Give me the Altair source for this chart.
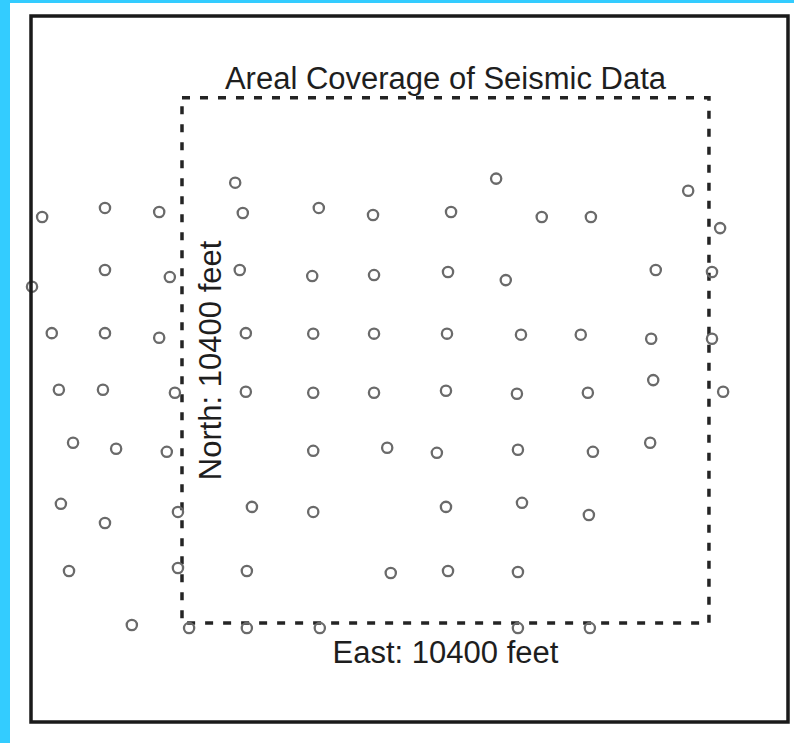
import altair as alt
import pandas as pd

# Receiver/shot locations (feet)
east = [
    1050, -2760, -1520, -450, 1200, 2700, 3770, 5310, 6200, 7100, 8070, 9990, 10620,
    -1520, -240, -2960, 1140, 2570, 3790, 5250, 6390, 9350, 10460,
    -2570, -1520, -450, 1260, 2590, 3790, 5230, 6690, 7870, 9260, 10460,
    -2430, -1560, -140, 1260, 2590, 3790, 5210, 6610, 8010, 9300, 10680,
    -2150, -1300, -300, 2590, 4050, 5030, 6630, 8110, 9240,
    -2390, -1520, -80, 1380, 2590, 5210, 6710, 8030,
    -2230, -80, 1280, 4120, 5250, 6630,
    -990, 140, 1280, 2720, 6630, 8050,
]
north = [
    8720, 8040, 8220, 8140, 8120, 8220, 8080, 8140, 8800, 8040, 8040, 8560, 7820,
    6990, 6850, 6660, 6990, 6870, 6890, 6950, 6790, 6990, 6950,
    5740, 5740, 5650, 5740, 5730, 5730, 5730, 5710, 5710, 5630, 5630,
    4620, 4620, 4560, 4580, 4560, 4560, 4600, 4540, 4560, 4810, 4580,
    3570, 3450, 3390, 3410, 3470, 3370, 3430, 3390, 3570,
    2360, 1980, 2200, 2300, 2200, 2300, 2380, 2140,
    1030, 1090, 1030, 990, 1030, 1010,
    -40, -100, -100, -100, -100, -100,
]

survey_side = [0, 10400]          # dashed square: 10400 x 10400 feet
x_domain = [-2980, 11960]
y_domain = [-1960, 12020]

labels_text = ["Areal Coverage of Seismic Data", "East: 10400 feet", "North: 10400 feet"]
labels_east = [5200, 5200, 770]
labels_north = [10580, -790, 5200]
labels_angle = [0, 0, 270]

W, H = 757, 706

pts = pd.DataFrame({"east": east, "north": north})
box = pd.DataFrame({"x0": [survey_side[0]], "x1": [survey_side[1]],
                    "y0": [survey_side[0]], "y1": [survey_side[1]]})
lab = pd.DataFrame({"text": labels_text, "east": labels_east,
                    "north": labels_north, "angle": labels_angle})

xs = alt.Scale(domain=x_domain, nice=False, zero=False)
ys = alt.Scale(domain=y_domain, nice=False, zero=False)

white = alt.Chart(pd.DataFrame({"a": [0]})).mark_rect(
    fill="white", clip=False
).encode(x=alt.value(-21), x2=alt.value(W + 6), y=alt.value(-13), y2=alt.value(H + 21))

square = alt.Chart(box).mark_rect(
    fill=None, fillOpacity=0, stroke="#242424", strokeWidth=3.5, strokeDash=[8, 10]
).encode(
    x=alt.X("x0:Q", scale=xs, axis=None),
    x2="x1:Q",
    y=alt.Y("y0:Q", scale=ys, axis=None),
    y2="y1:Q",
)

points = alt.Chart(pts).mark_point(
    shape="circle", filled=False, size=105, strokeWidth=2.3, color="#6a6a6a", opacity=1
).encode(
    x=alt.X("east:Q", scale=xs, axis=None),
    y=alt.Y("north:Q", scale=ys, axis=None),
)

texts = alt.Chart(lab).mark_text(
    font="Liberation Sans", fontSize=31, color="#1e1e1e",
    align="center", baseline="alphabetic"
).encode(
    x=alt.X("east:Q", scale=xs, axis=None),
    y=alt.Y("north:Q", scale=ys, axis=None),
    text="text:N",
    angle=alt.Angle("angle:Q", scale=None),
)

frame = alt.Chart(pd.DataFrame({"a": [0]})).mark_rect(
    fill=None, fillOpacity=0, stroke="#1a1a1a", strokeWidth=3.5, clip=False
).encode(x=alt.value(0), x2=alt.value(W), y=alt.value(0), y2=alt.value(H))

chart = alt.layer(white, square, points, texts, frame).properties(
    width=W, height=H,
    padding={"left": 31, "top": 16, "right": 6, "bottom": 21},
    autosize=alt.AutoSizeParams(type="none"),
    background="#33ccff",
).configure_view(stroke=None)

chart.save("out.html", embed_options={"renderer": "svg", "actions": False})
